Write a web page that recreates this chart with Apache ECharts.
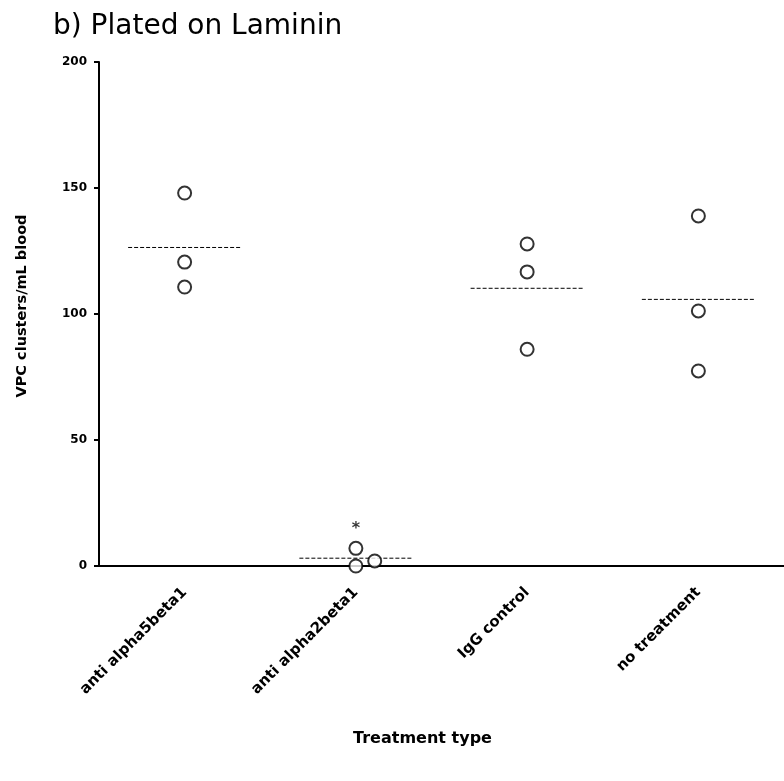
<!DOCTYPE html>
<html>
<head>
<meta charset="utf-8">
<script src="https://cdn.jsdelivr.net/npm/echarts@6/dist/echarts.min.js"></script>
<style>
html,body{margin:0;padding:0;background:#fff;}
#chart{width:784px;height:781px;}
</style>
</head>
<body>
<div id="chart"></div>
<script>
var categories = ['anti alpha5beta1', 'anti alpha2beta1', 'IgG control', 'no treatment'];
var valuesA5B1 = [148, 120.6, 110.7];
var valuesA2B1 = [7, 0, 2];
var valuesIgG = [127.8, 116.7, 86];
var valuesNone = [138.9, 101.2, 77.4];
var jitterA2B1 = [0, 0, 0.11];
var means = [126.4, 3.1, 110.2, 105.8];
var yTicks = [0, 50, 100, 150, 200];

var groups = [valuesA5B1, valuesA2B1, valuesIgG, valuesNone];
var jitters = [[0,0,0], jitterA2B1, [0,0,0], [0,0,0]];
var FONT = 'DejaVu Sans';

var pts = [];
groups.forEach(function (g, i) {
  g.forEach(function (v, k) {
    var item = { value: [i + jitters[i][k], v] };
    if (i === 1 && v === Math.max.apply(null, g)) {
      item.label = { show: true, position: 'top', distance: 4, formatter: '*',
        fontSize: 16, fontWeight: 'bold', color: '#000', fontFamily: FONT };
    }
    pts.push(item);
  });
});

var meanSeries = means.map(function (m, i) {
  return {
    type: 'line', xAxisIndex: 1, yAxisIndex: 0, symbol: 'none', silent: true,
    data: [[i - 0.33, m], [i + 0.33, m]],
    lineStyle: { color: '#000', width: 1, type: [4, 2] },
    z: 1
  };
});

var chart = echarts.init(document.getElementById('chart'), null, { renderer: 'canvas' });
chart.setOption({
  animation: false,
  backgroundColor: '#fff',
  title: {
    text: 'b) Plated on Laminin',
    left: 48, top: 8,
    textStyle: { fontFamily: FONT, fontWeight: 'normal', fontSize: 28, color: '#000' }
  },
  grid: { left: 99, top: 62, width: 692, bottom: 215, containLabel: false },
  xAxis: [{
    type: 'category',
    data: categories,
    boundaryGap: true,
    name: 'Treatment type',
    nameLocation: 'middle',
    nameGap: 165,
    nameTextStyle: { fontFamily: FONT, fontWeight: 'bold', fontSize: 16, color: '#000', padding: [0, 38, 0, 0] },
    axisLine: { onZero: false, lineStyle: { color: '#000', width: 2 } },
    axisTick: { alignWithLabel: true, length: 6, lineStyle: { color: '#000', width: 2 } },
    axisLabel: { rotate: 45, margin: 24, fontFamily: FONT, fontWeight: 'bold', fontSize: 15, color: '#000' },
    splitLine: { show: false }
  }, {
    type: 'value', min: -0.5, max: 3.5, show: false,
    splitLine: { show: false }
  }],
  yAxis: {
    type: 'value', min: 0, max: 200, interval: 50,
    name: 'VPC clusters/mL blood',
    nameLocation: 'middle',
    nameGap: 69,
    nameTextStyle: { fontFamily: FONT, fontWeight: 'bold', fontSize: 14.5, color: '#000', padding: [0, 0, 0, 16] },
    axisLine: { show: true, onZero: false, lineStyle: { color: '#000', width: 2 } },
    axisTick: { show: true, length: 5, lineStyle: { color: '#000', width: 2 } },
    axisLabel: { margin: 12, fontFamily: FONT, fontWeight: 'bold', fontSize: 12, color: '#000',
      formatter: function (v) { return yTicks.indexOf(v) >= 0 ? String(v) : ''; } },
    splitLine: { show: false }
  },
  series: meanSeries.concat([{
    type: 'scatter', xAxisIndex: 1, yAxisIndex: 0,
    symbol: 'circle', symbolSize: 13,
    itemStyle: { color: '#fff', borderColor: '#000', borderWidth: 2 },
    data: pts,
    z: 3
  }])
});
</script>
</body>
</html>
